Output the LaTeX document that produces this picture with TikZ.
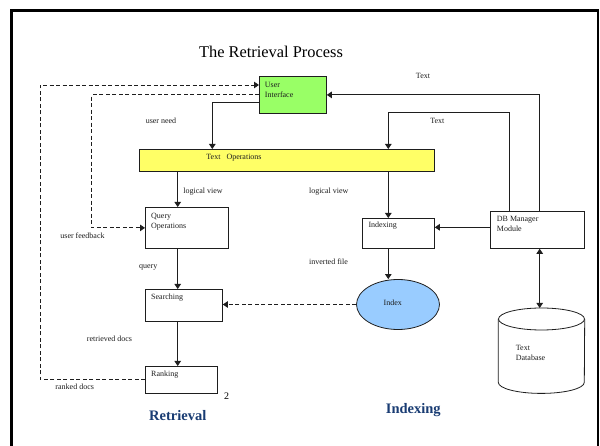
\documentclass[tikz,border=0pt]{standalone}
\usepackage{fontspec}
\setmainfont{Liberation Serif}
\usetikzlibrary{arrows.meta,shapes.geometric,calc}
\definecolor{uigreen}{RGB}{153,255,102}
\definecolor{opsyellow}{RGB}{255,255,102}
\definecolor{idxblue}{RGB}{153,204,255}
\definecolor{headblue}{RGB}{25,60,115}
\definecolor{ink}{RGB}{30,30,30}
\begin{document}
\begin{tikzpicture}[x=1pt,y=-1pt,
  box/.style={draw=ink, line width=0.8pt, rectangle, inner sep=0, anchor=north west},
  small/.style={font=\fontsize{8}{10}\selectfont, text=ink, inner sep=0},
  boxtext/.style={small, anchor=north west, align=left},
  conn/.style={draw=ink, line width=0.9pt},
  arr/.style={conn, -{Triangle[length=5pt,width=6.5pt]}},
  darr/.style={conn, {Triangle[length=5pt,width=6.5pt]}-{Triangle[length=5pt,width=6.5pt]}},
  fback/.style={arr, dash pattern=on 4pt off 2.5pt},
  heading/.style={font=\fontsize{14.5}{16}\selectfont\bfseries, text=headblue, inner sep=0}]

\useasboundingbox (0,0) rectangle (600,446);
\clip (0,0) rectangle (600,446);
\fill[white] (0,0) rectangle (600,446);

% outer frame (open at the bottom edge)
\draw[line width=2.4pt] (11.3,460) -- (11.3,10.5) -- (597.8,10.5) -- (597.8,460);

% title
\node[font=\fontsize{16.4}{19}\selectfont, inner sep=0] (title) at (271,52) {The Retrieval Process};

% column and row helpers for the connectors
\coordinate (colL) at (177.7,0);
\coordinate (colR) at (388.3,0);
\coordinate (colUN) at (212.3,0);
\coordinate (colT) at (509.3,0);
\coordinate (colD) at (539.7,0);
\coordinate (fbL) at (40,0);
\coordinate (fbM) at (91.7,0);
\coordinate (rUN) at (0,102.7);
\coordinate (rTx) at (0,112.7);
\coordinate (rTop) at (0,85);
\coordinate (rDI) at (0,227.3);

% boxes
\node[box, fill=uigreen, minimum width=67, minimum height=37] (ui) at (259,76) {};
\node[box, fill=opsyellow, minimum width=295, minimum height=22] (ops) at (139,149) {};
\node[box, minimum width=83, minimum height=41] (query) at (145,207) {};
\node[box, minimum width=77, minimum height=32] (search) at (145,289) {};
\node[box, minimum width=72, minimum height=27] (rank) at (145,366) {};
\node[box, minimum width=72, minimum height=30] (idxbox) at (362,218) {};
\node[box, minimum width=94, minimum height=37] (dbm) at (490,211) {};
\node[draw=ink, line width=0.8pt, ellipse, fill=idxblue, minimum width=83, minimum height=50, inner sep=0] (index) at (398,304.5) {};
\node[minimum width=86, minimum height=85, inner sep=0, anchor=north west] (db) at (498.3,308) {};

% text database cylinder
\draw[ink, line width=0.8pt, fill=white]
  ([yshift=-11pt]db.north west) -- ([yshift=11pt]db.south west)
  arc[start angle=180, end angle=360, x radius=43pt, y radius=11pt]
  -- ([yshift=-11pt]db.north east);
\draw[ink, line width=0.8pt] ([yshift=-11pt]db.north) ellipse [x radius=43pt, y radius=11pt];

% box texts
\node[boxtext] (uiT) at (264.7,82) {User\\Interface};
\node[small] (opsT) at (234,157.5) {Text\ \ \ Operations};
\node[boxtext] (queryT) at (151,213.2) {Query\\Operations};
\node[boxtext] (searchT) at (151,293.5) {Searching};
\node[boxtext] (rankT) at (151,370.8) {Ranking};
\node[boxtext] (idxboxT) at (368.3,222.2) {Indexing};
\node[boxtext] (dbmT) at (496.7,216.5) {DB Manager\\Module};
\node[small] (indexT) at (392.7,302.3) {Index};
\node[boxtext] (dbT) at (515.7,345.5) {Text\\Database};

% solid connectors
\draw[arr] (ui.west |- rUN) -| (ops.north -| colUN);
\draw[arr] (dbm.north -| colD) |- (ui.east);
\draw[arr] (dbm.north -| colT) |- (rTx -| colR) -- (ops.north -| colR);
\draw[arr] (ops.south -| colL) -- (query.north -| colL);
\draw[arr] (ops.south -| colR) -- (idxbox.north -| colR);
\draw[arr] (dbm.west |- rDI) -- (idxbox.east |- rDI);
\draw[arr] (idxbox.south -| colR) -- (index.north -| colR);
\draw[darr] (dbm.south -| colD) -- (db.north -| colD);
\draw[arr] (query.south -| colL) -- (search.north -| colL);
\draw[arr] (search.south -| colL) -- (rank.north -| colL);

% dashed connectors
\draw[fback] (index.west) -- (search.east |- index.west);
\draw[fback] (rank.west) -| (fbL |- rTop) -- (ui.west |- rTop);
\draw[fback] (ui.west) -| (fbM |- query.west) -- (query.west);

% connector labels
\node[small] (lText1) at (423,76) {Text};
\node[small] (lText2) at (437.3,121) {Text};
\node[small] (lNeed) at (161,121) {user need};
\node[small] (lLog1) at (203,191.5) {logical view};
\node[small] (lLog2) at (328.7,191.5) {logical view};
\node[small] (lInv) at (328.5,261.3) {inverted file};
\node[small] (lFb) at (82.5,235.3) {user feedback};
\node[small] (lQuery) at (148.3,267.5) {query};
\node[small] (lRet) at (109.5,338.3) {retrieved docs};
\node[small] (lRank) at (74.7,386.3) {ranked docs};

% page number and section headings
\node[font=\fontsize{10}{12}\selectfont, inner sep=0] (pg) at (226.5,396.3) {2};
\node[heading] (hRet) at (177.8,415.3) {Retrieval};
\node[heading] (hIdx) at (413.3,410.3) {Indexing};
\end{tikzpicture}
\end{document}
